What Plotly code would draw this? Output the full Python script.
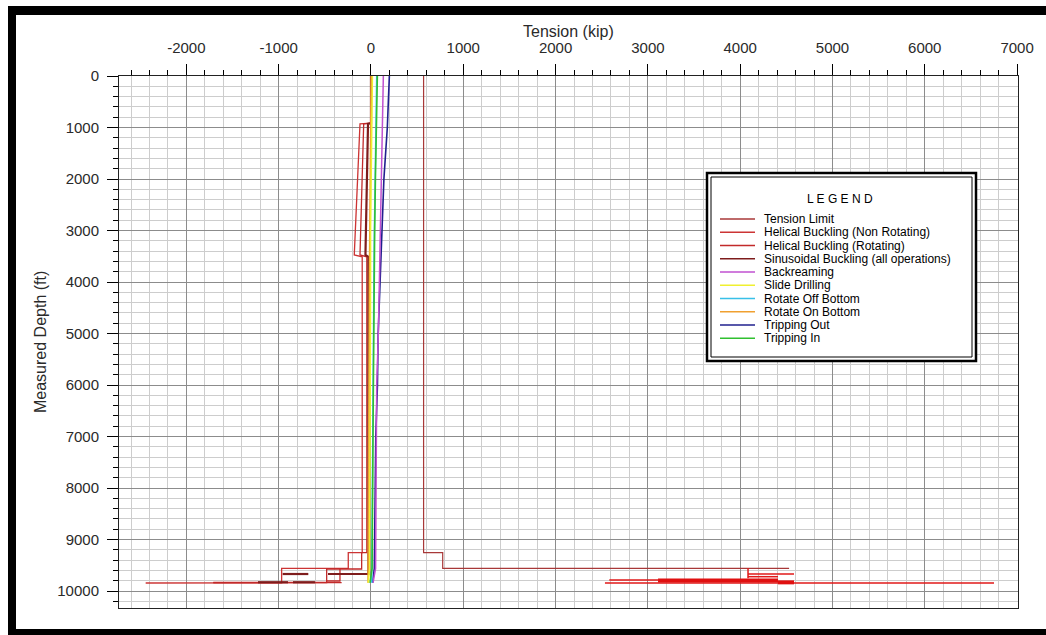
import plotly.graph_objects as go

# ---------------- data ----------------
depth_ops = [0, 1000, 2000, 3000, 4000, 5000, 6000, 7000, 8000, 9000, 9560, 9840]
tripping_out = [199, 177, 140, 118, 95, 78, 70, 52, 46, 40, 36, 18]
backreaming = [134, 124, 112, 100, 92, 80, 62, 58, 55, 52, 50, 22]
tripping_in = [69, 56, 48, 40, 33, 28, 26, 22, 18, 15, 12, -11]
rotate_off_bottom = [62, 52, 44, 37, 31, 27, 24, 20, 17, 14, 12, 8]
slide_drilling = [15, 8, 0, -5, -5, -5, -8, -10, -12, -14, -15, -30]
rotate_on_bottom = [2, -5, -10, -14, -18, -20, -22, -24, -26, -27, -28, -32]

tension_limit_x = [570, 570, 777, 777, 4530]
tension_limit_y = [0, 9256, 9256, 9560, 9560]
bha_limit_x = [4085, 4085, None, 4085, 4583, None, 4085, 4410, None, 2582, 3110, None, 2535, 6750]
bha_limit_y = [9560, 9750, None, 9670, 9670, None, 9722, 9722, None, 9786, 9786, None, 9845, 9845]
bha_block_x = [3110, 4410, None, 4410, 4583]
bha_block_y = [9796, 9796, None, 9832, 9832]

helical_nr_x = [0, 0, -119, -181, -95, -95, -246, -246, -968, -968, -2441]
helical_nr_y = [0, 915, 930, 3475, 3510, 9256, 9256, 9560, 9560, 9840, 9845]
helical_r_x = [0, 0, -79, -119, -45, -45, -101, -101, -480, -480, -1708, None, -336, -336, -480, None, -1708, -318]
helical_r_y = [0, 915, 930, 3475, 3510, 9256, 9256, 9573, 9573, 9835, 9835, None, 9573, 9806, 9806, None, 9838, 9838]
sinusoidal_x = [0, 0, -32, -60, -28, -28, -228, -466, None, -679, -957, None, -1224, -899, None, -845, -607]
sinusoidal_y = [0, 915, 930, 3475, 3510, 9670, 9670, 9670, None, 9670, 9670, None, 9830, 9830, None, 9830, 9830]

x_tick_vals = [-2000, -1000, 0, 1000, 2000, 3000, 4000, 5000, 6000, 7000]
x_tick_text = ["-2000", "-1000", "0", "1000", "2000", "3000", "4000", "5000", "6000", "7000"]
y_tick_vals = [0, 1000, 2000, 3000, 4000, 5000, 6000, 7000, 8000, 9000, 10000]
y_tick_text = [str(v) for v in y_tick_vals]

legend_names = ["Tension Limit", "Helical Buckling (Non Rotating)", "Helical Buckling (Rotating)",
                "Sinusoidal Buckling (all operations)", "Backreaming", "Slide Drilling",
                "Rotate Off Bottom", "Rotate On Bottom", "Tripping Out", "Tripping In"]
legend_colors = ["#a83838", "#cc3434", "#c22a2a", "#7e1c1c", "#c050d0", "#f0f030",
                 "#38c0e8", "#f0a030", "#20208e", "#30c030"]
col = dict(zip(legend_names, legend_colors))

FONT = "Liberation Sans, Arial, sans-serif"

fig = go.Figure()

def add(x, y, color, width=1.2, name=None):
    fig.add_trace(go.Scatter(x=x, y=y, mode="lines", line=dict(color=color, width=width),
                             name=name, showlegend=False, connectgaps=False, hoverinfo="skip"))

add(tension_limit_x, tension_limit_y, col["Tension Limit"], 1.2, "Tension Limit")
add(bha_limit_x, bha_limit_y, "#e01818", 1.5)
add(bha_block_x, bha_block_y, "#e01010", 4)
add(helical_nr_x, helical_nr_y, col["Helical Buckling (Non Rotating)"], 1.3, "Helical Buckling (Non Rotating)")
add(helical_r_x, helical_r_y, col["Helical Buckling (Rotating)"], 1.3, "Helical Buckling (Rotating)")
add(sinusoidal_x, sinusoidal_y, col["Sinusoidal Buckling (all operations)"], 2.2, "Sinusoidal Buckling (all operations)")
add(tripping_out, depth_ops, col["Tripping Out"], 1.6, "Tripping Out")
add(backreaming, depth_ops, col["Backreaming"], 1.5, "Backreaming")
add(rotate_off_bottom, depth_ops, col["Rotate Off Bottom"], 1.5, "Rotate Off Bottom")
add(tripping_in, depth_ops, col["Tripping In"], 1.6, "Tripping In")
add(rotate_on_bottom, depth_ops, col["Rotate On Bottom"], 1.5, "Rotate On Bottom")
add(slide_drilling, depth_ops, col["Slide Drilling"], 1.6, "Slide Drilling")

FIG_W, FIG_H = 1046, 635
# plot area in page pixels
L, R, T, B = 119, 1018, 76, 608
def px(x):
    return (x - L) / (R - L)
def py(y):
    return (B - y) / (B - T)

fig.update_layout(
    width=FIG_W, height=FIG_H,
    margin=dict(l=L, r=FIG_W - R, t=T, b=FIG_H - B, pad=0),
    paper_bgcolor="white", plot_bgcolor="white",
    showlegend=False,
    font=dict(family=FONT, size=15, color="#2a2a2a"),
)

fig.update_xaxes(
    side="top", range=[-2730, 7010], tickmode="array", tickvals=x_tick_vals, ticktext=x_tick_text,
    ticks="outside", ticklen=11, tickcolor="black", tickwidth=1, ticklabelstandoff=5,
    showgrid=True, gridcolor="#8c8c8c", gridwidth=1, zeroline=False,
    minor=dict(tickmode="linear", tick0=0, dtick=200, ticks="outside", ticklen=5,
               tickcolor="black", showgrid=True, gridcolor="#cdcdcd", gridwidth=1),
    showline=True, linecolor="#222", linewidth=1, mirror=True,
    tickfont=dict(family=FONT, size=15, color="#2a2a2a"),
)
fig.update_yaxes(
    range=[10330, 0], tickmode="array", tickvals=y_tick_vals, ticktext=y_tick_text,
    ticks="outside", ticklen=11, tickcolor="black", tickwidth=1, ticklabelstandoff=5,
    showgrid=True, gridcolor="#8c8c8c", gridwidth=1, zeroline=False,
    minor=dict(tickmode="linear", tick0=0, dtick=200, ticks="outside", ticklen=5,
               tickcolor="black", showgrid=True, gridcolor="#cdcdcd", gridwidth=1),
    showline=True, linecolor="#222", linewidth=1, mirror=True,
    tickfont=dict(family=FONT, size=15, color="#2a2a2a"),
)

shapes = []
annotations = []

# black frame (page pixels)
for (x0, y0, x1, y1) in [(8, 6, 1046, 15), (8, 6, 16, 635), (8, 629, 1046, 635)]:
    shapes.append(dict(type="rect", xref="paper", yref="paper", x0=px(x0), x1=px(x1),
                       y0=py(y1), y1=py(y0), fillcolor="black", line=dict(width=0), layer="above"))

# axis titles
annotations.append(dict(text="Tension (kip)", xref="paper", yref="paper", x=px(568), y=py(31),
                        xanchor="center", yanchor="middle", showarrow=False,
                        font=dict(family=FONT, size=16, color="#2a2a2a")))
annotations.append(dict(text="Measured Depth (ft)", xref="paper", yref="paper", x=px(40), y=py(342),
                        xanchor="center", yanchor="middle", textangle=-90, showarrow=False,
                        font=dict(family=FONT, size=16, color="#2a2a2a")))

# legend box
shapes.append(dict(type="rect", xref="paper", yref="paper", x0=px(707), x1=px(976), y0=py(361), y1=py(173),
                   fillcolor="white", line=dict(color="black", width=2.5), layer="above"))
shapes.append(dict(type="rect", xref="paper", yref="paper", x0=px(711), x1=px(972), y0=py(357), y1=py(177),
                   fillcolor="rgba(0,0,0,0)", line=dict(color="black", width=1), layer="above"))
annotations.append(dict(text="L E G E N D", xref="paper", yref="paper", x=px(840), y=py(199),
                        xanchor="center", yanchor="middle", showarrow=False,
                        font=dict(family=FONT, size=12, color="black")))
row0, step = 219, 13.26
for i, (nm, c) in enumerate(zip(legend_names, legend_colors)):
    yy = row0 + i * step
    shapes.append(dict(type="line", xref="paper", yref="paper", x0=px(720), x1=px(755), y0=py(yy), y1=py(yy),
                       line=dict(color=c, width=1.5), layer="above"))
    annotations.append(dict(text=nm, xref="paper", yref="paper", x=px(762), y=py(yy),
                            xanchor="left", yanchor="middle", showarrow=False,
                            font=dict(family=FONT, size=12, color="black")))

fig.update_layout(shapes=shapes, annotations=annotations)

fig.write_html("out.html", config={"displayModeBar": False},
               post_script="document.body.style.margin='0';document.body.style.overflow='hidden';")
